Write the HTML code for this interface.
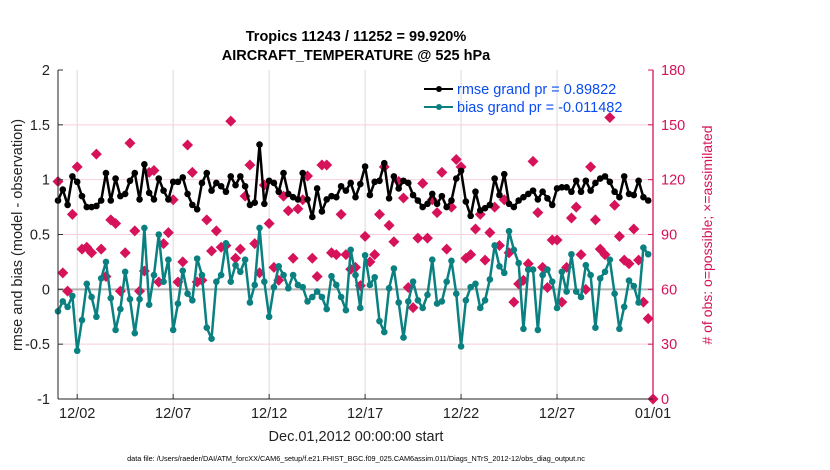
<!DOCTYPE html>
<html><head><meta charset="utf-8"><style>
body{margin:0;background:#fff;}
svg{display:block;font-family:"Liberation Sans",Arial,sans-serif;}
</style></head><body>
<svg id="chart" width="830" height="470" viewBox="0 0 830 470" xmlns="http://www.w3.org/2000/svg">
<g id="grid"></g>
<g id="series"></g>
<g id="axes"></g>
<text x="356" y="41" text-anchor="middle" font-size="14.5" font-weight="bold" fill="#000">Tropics 11243 / 11252 = 99.920%</text>
<text x="356" y="60" text-anchor="middle" font-size="14.5" font-weight="bold" fill="#000">AIRCRAFT_TEMPERATURE @ 525 hPa</text>
<text x="356" y="441" text-anchor="middle" font-size="14.5" fill="#222">Dec.01,2012 00:00:00 start</text>
<text transform="translate(22,235) rotate(-90)" text-anchor="middle" font-size="14.5" fill="#222">rmse and bias (model - observation)</text>
<text transform="translate(712,235) rotate(-90)" text-anchor="middle" font-size="14" fill="#d6135a"># of obs: o=possible; ×=assimilated</text>
<text x="356" y="461" text-anchor="middle" font-size="7.3" fill="#000">data file: /Users/raeder/DAI/ATM_forcXX/CAM6_setup/f.e21.FHIST_BGC.f09_025.CAM6assim.011/Diags_NTrS_2012-12/obs_diag_output.nc</text>
<g>
<line x1="424" y1="89" x2="453" y2="89" stroke="#000" stroke-width="2"/><circle cx="439" cy="89" r="3" fill="#000"/>
<text x="457" y="94" font-size="14.5" fill="#0a4cf0">rmse grand pr = 0.89822</text>
<line x1="424" y1="107" x2="453" y2="107" stroke="#0a8080" stroke-width="2"/><circle cx="439" cy="107" r="3" fill="#0a8080"/>
<text x="457" y="112" font-size="14.5" fill="#0a4cf0">bias grand pr = -0.011482</text>
</g>
</svg>
<script>
const rmseValues=[0.81,0.91,0.77,1.03,0.98,0.85,0.75,0.75,0.76,0.81,1.06,0.81,1.01,0.85,0.87,0.99,1.06,0.82,1.14,0.88,0.82,1.01,0.90,0.82,0.98,0.98,1.02,0.87,0.77,0.73,0.97,1.06,0.90,0.97,0.94,0.89,1.03,0.95,1.03,0.94,0.77,0.79,1.32,0.78,
0.99,0.97,0.89,1.06,0.87,0.84,0.82,1.06,0.82,0.66,0.92,0.71,0.82,0.85,0.84,0.94,0.90,0.97,0.84,0.96,1.12,0.86,0.98,0.99,1.15,0.83,1.03,0.92,0.99,0.97,0.86,0.81,0.75,0.78,0.87,0.78,0.85,0.75,0.81,1.01,1.08,
0.80,0.67,0.89,0.72,0.74,0.77,1.01,0.86,1.05,0.78,0.75,0.81,0.84,0.87,0.90,0.82,0.89,0.83,0.77,0.92,0.93,0.93,0.89,0.99,0.89,0.99,0.90,0.97,1.01,1.03,0.98,0.89,0.84,1.03,0.87,0.86,0.99,0.84,0.81];
const biasValues=[-0.20,-0.11,-0.16,-0.06,-0.56,-0.28,0.05,-0.07,-0.25,0.10,0.25,-0.08,-0.37,-0.18,0.16,-0.09,-0.40,-0.09,0.56,-0.14,0.13,0.50,0.07,0.27,-0.37,-0.13,0.17,-0.04,-0.10,0.28,0.13,-0.35,-0.45,0.07,0.13,0.42,0.07,0.22,0.16,0.27,-0.12,0.04,0.56,0.07,
-0.25,0.02,0.21,0.13,0.01,0.13,0.04,0.02,-0.11,-0.07,-0.02,-0.07,-0.18,0.12,0.04,-0.07,-0.19,0.36,0.13,-0.17,0.31,0.04,0.11,-0.29,-0.39,0.01,0.19,-0.12,-0.44,-0.11,0.07,-0.10,-0.17,-0.05,0.27,-0.13,-0.11,0.07,0.26,-0.04,-0.52,
-0.10,0.02,0.05,-0.17,-0.10,0.09,0.40,0.21,0.15,0.53,0.36,0.24,-0.36,0.18,0.18,-0.37,0.13,0.18,0.07,-0.17,0.16,-0.02,0.32,-0.02,-0.07,0.22,0.13,-0.35,0.10,0.16,0.27,-0.04,-0.36,-0.16,0.08,0.03,-0.12,0.38,0.32];
const obsCounts=[119,69,59,101,127,82,83,80,134,82,67,98,96,59,80,140,92,59,70,124,125,64,85,91,109,64,75,139,124,64,65,98,81,92,83,84,152,77,82,111,128,85,69,117,
96,72,65,111,103,77,104,109,122,77,67,128,128,80,79,101,79,71,72,62,89,75,79,101,127,95,86,119,110,61,50,88,118,88,109,102,124,82,105,131,127,
77,79,93,101,76,91,105,84,109,80,53,63,65,74,130,102,72,61,87,87,53,72,99,105,79,60,127,98,82,79,154,106,89,76,74,93,76,53,44,0];
const xTickLabels=["12/02","12/07","12/12","12/17","12/22","12/27","01/01"];
const xTickDays=[1,6,11,16,21,26,31];
const leftTicks=[-1,-0.5,0,0.5,1,1.5,2];
const rightTicks=[0,30,60,90,120,150,180];

const L=58,R=653,T=70,B=399,NS="http://www.w3.org/2000/svg";
const xDay=d=>L+(R-L)*d/31;
const yL=v=>B-(B-T)*(v+1)/3;
const yR=c=>B-(B-T)*c/180;
function mk(tag,attrs,parent){const e=document.createElementNS(NS,tag);for(const k in attrs)e.setAttribute(k,attrs[k]);parent.appendChild(e);return e;}
const grid=document.getElementById('grid'),ser=document.getElementById('series'),ax=document.getElementById('axes');

xTickDays.forEach((d,i)=>{
  const l=mk('line',{x1:xDay(d),x2:xDay(d),y1:T,y2:B,stroke:'#d9d9d9','stroke-width':1},grid);
  
  
  const t=mk('line',{x1:xDay(d),x2:xDay(d),y1:B,y2:B-5,stroke:'#333'},ax);
  
  
  const tx=mk('text',{x:xDay(d),y:B+19,'text-anchor':'middle','font-size':14.5,fill:'#222'},ax);
  tx.textContent=xTickLabels[i];
  
  
});
rightTicks.forEach(c=>{
  if(c>0&&c<180){const g=mk('line',{x1:L,x2:R,y1:yR(c),y2:yR(c),stroke:'#f7cfdc','stroke-width':1},grid);
  
  }
  const t=mk('line',{x1:R,x2:R-5,y1:yR(c),y2:yR(c),stroke:'#d6135a'},ax);
  
  
  const tx=mk('text',{x:R+8,y:yR(c)+5,'font-size':14.5,fill:'#d6135a'},ax);
  tx.textContent=c;
  
  
});
leftTicks.forEach(v=>{
  const t=mk('line',{x1:L,x2:L+5,y1:yL(v),y2:yL(v),stroke:'#333'},ax);
  
  
  const tx=mk('text',{x:L-8,y:yL(v)+5,'text-anchor':'end','font-size':14.5,fill:'#222'},ax);
  tx.textContent=String(v);
  
  
});
const zl=mk('line',{x1:L,x2:R,y1:yL(0),y2:yL(0),stroke:'#b0b0b0','stroke-width':2},grid);



const xi=i=>xDay(i*0.25);
obsCounts.forEach((c,i)=>{
  const x=xi(i),y=yR(c);
  const d=mk('path',{d:`M${x} ${y-5.5}L${x+5.5} ${y}L${x} ${y+5.5}L${x-5.5} ${y}Z`,fill:'#d6135a'},ser);
  
  
});
function line(vals,color,name){
  const p=mk('polyline',{points:vals.map((v,i)=>xi(i)+','+yL(v)).join(' '),fill:'none',stroke:color,'stroke-width':2.5,'stroke-linejoin':'round'},ser);
  
  
  vals.forEach((v,i)=>{
    const c=mk('circle',{cx:xi(i),cy:yL(v),r:3.3,fill:color},ser);
    
    
  });
}
line(biasValues,'#0a8080','bias');
line(rmseValues,'#000','rmse');

const la=mk('line',{x1:L,x2:L,y1:T,y2:B,stroke:'#222','stroke-width':1},ax);


const ra=mk('line',{x1:R,x2:R,y1:T,y2:B,stroke:'#d6135a','stroke-width':1.3},ax);


const ba=mk('line',{x1:L,x2:R,y1:B,y2:B,stroke:'#222','stroke-width':1},ax);


</script>
</body></html>
